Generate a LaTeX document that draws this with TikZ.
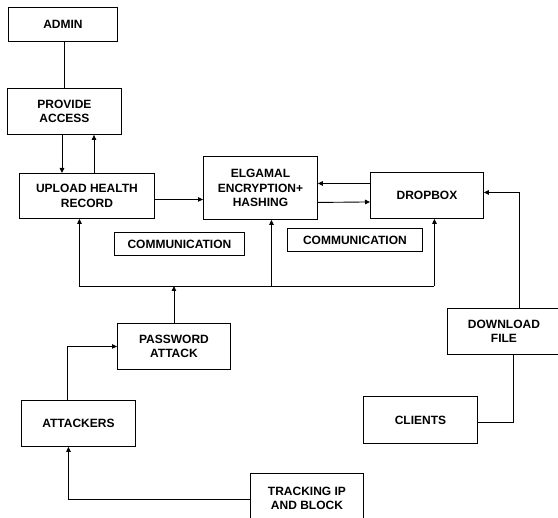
\documentclass[tikz,border=0pt]{standalone}
\usepackage{fontspec}
\setmainfont{Liberation Sans}
\usetikzlibrary{arrows.meta}
\begin{document}
\begin{tikzpicture}[x=1pt,y=-1pt,
  box/.style={draw, line width=0.9pt, inner sep=0pt, align=center, anchor=north west,
    font=\bfseries\fontsize{12}{14.5}\selectfont},
  conn/.style={line width=0.9pt},
  arr/.style={line width=0.9pt, -{Triangle[length=5pt,width=4.5pt]}}]
\useasboundingbox (0,0) rectangle (558,518);
\clip (0,0) rectangle (558,518);
\node[box, minimum width=109pt, minimum height=34pt] (admin) at (8,7) {ADMIN};
\node[box, minimum width=114pt, minimum height=46pt] (provide) at (7,88) {PROVIDE\\ACCESS};
\node[box, minimum width=135pt, minimum height=45pt] (upload) at (19,173) {UPLOAD HEALTH\\RECORD};
\node[box, minimum width=114pt, minimum height=63pt] (elg) at (203,156) {ELGAMAL\\ENCRYPTION+\\HASHING};
\node[box, minimum width=113pt, minimum height=46pt] (drop) at (370,172) {DROPBOX};
\node[box, minimum width=130pt, minimum height=23pt] (comm1) at (114,232) {COMMUNICATION};
\node[box, minimum width=135pt, minimum height=23pt] (comm2) at (287,228) {COMMUNICATION};
\node[box, minimum width=113pt, minimum height=46pt] (pw) at (117,323) {PASSWORD\\ATTACK};
\node[box, minimum width=114pt, minimum height=46pt] (att) at (21,400) {ATTACKERS};
\node[box, minimum width=113pt, minimum height=50pt] (track) at (250,473) {TRACKING IP\\AND BLOCK};
\node[box, minimum width=113pt, minimum height=46pt] (dl) at (447,308) {DOWNLOAD\\FILE};
\node[box, minimum width=114pt, minimum height=47pt] (clients) at (363,396) {CLIENTS};
\coordinate (bus) at (0,286);
% admin / provide / upload
\draw[conn] ([xshift=1.5pt]admin.south) -- ([xshift=1.5pt]admin.south |- provide.north);
\draw[arr] ([xshift=55pt]provide.south west) -- ([xshift=55pt]provide.south west |- upload.north);
\draw[arr] ([xshift=87pt]provide.south west |- upload.north) -- ([xshift=87pt]provide.south west);
% upload -> elgamal
\draw[arr] ([yshift=-3.5pt]upload.east) -- ([yshift=-3.5pt]upload.east -| elg.west);
% dropbox <-> elgamal
\draw[arr] ([yshift=12pt]drop.west) -- ([yshift=12pt]drop.west -| elg.east);
\draw[arr] ([yshift=-14.5pt]elg.east) -- ([yshift=-14pt]elg.east -| drop.west);
% download -> dropbox
\draw[arr] ([xshift=15.5pt]dl.north) |- ([yshift=3pt]drop.east);
% clients -> download
\draw[conn] ([yshift=-2.5pt]clients.east) -| ([xshift=9.5pt]dl.south);
% bus
\draw[conn] ([xshift=-7.5pt]upload.south |- bus) -- ([xshift=7.5pt]drop.south |- bus);
\draw[arr] ([xshift=-7.5pt]upload.south |- bus) -- ([xshift=-7.5pt]upload.south);
\draw[arr] ([xshift=11pt]elg.south |- bus) -- ([xshift=11pt]elg.south);
\draw[arr] ([xshift=7.5pt]drop.south |- bus) -- ([xshift=7.5pt]drop.south);
\draw[arr] (pw.north) -- (pw.north |- bus);
% attackers -> password
\draw[arr] ([xshift=-11pt]att.north) |- (pw.west);
% tracking -> attackers
\draw[arr] ([yshift=-1pt]track.west) -| ([xshift=-10pt]att.south);
\end{tikzpicture}
\end{document}
